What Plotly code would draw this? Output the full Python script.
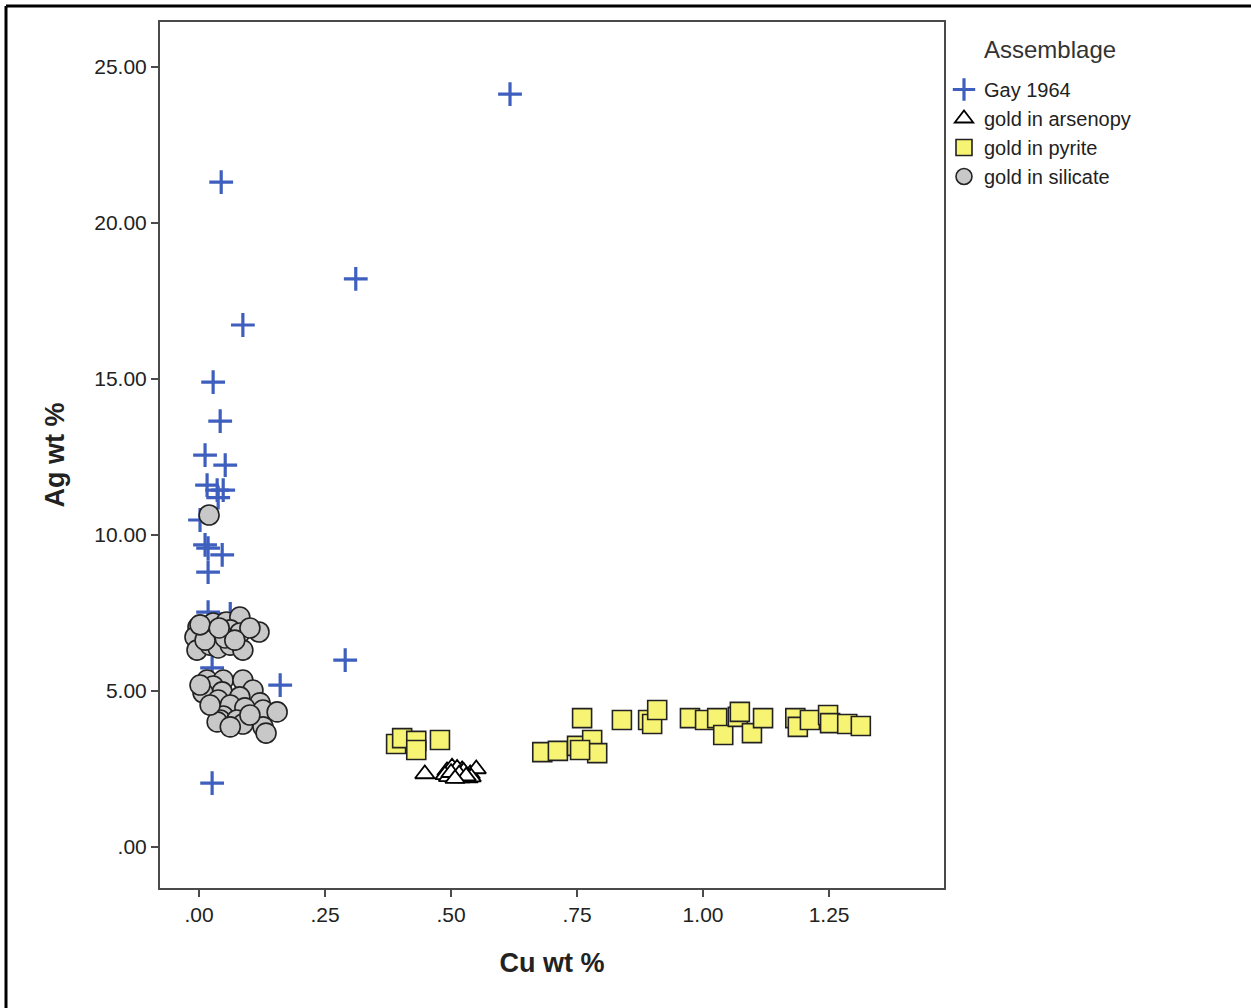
import plotly.graph_objects as go

# Cu and Ag contents (wt %) by assemblage
gay_cu = [0.617, 0.044, 0.311, 0.087, 0.028, 0.042, 0.012, 0.052, 0.016, 0.036,
          0.048, 0.038, 0.002, 0.012, 0.018, 0.046, 0.018, 0.290, 0.161, 0.026,
          0.018, 0.062, 0.026]
gay_ag = [24.13, 21.31, 18.21, 16.73, 14.90, 13.65, 12.56, 12.24, 11.60, 11.44,
          11.44, 11.20, 10.48, 9.68, 9.58, 9.36, 8.81, 5.99, 5.19, 2.05,
          7.53, 7.47, 5.74]

arseno_cu = [0.448, 0.492, 0.502, 0.508, 0.514, 0.522, 0.528, 0.538, 0.550,
             0.498, 0.518, 0.488, 0.534, 0.505, 0.512, 0.495, 0.525, 0.540,
             0.500, 0.516, 0.530, 0.508]
arseno_ag = [2.34, 2.44, 2.56, 2.40, 2.28, 2.47, 2.31, 2.34, 2.50,
             2.28, 2.21, 2.31, 2.21, 2.36, 2.52, 2.25, 2.42, 2.24,
             2.38, 2.33, 2.27, 2.19]

pyrite_cu = [0.391, 0.403, 0.431, 0.431, 0.478,
             0.760, 0.839, 0.891, 0.899, 0.909, 0.681, 0.712, 0.750, 0.780, 0.790, 0.756,
             0.974, 1.004, 1.028, 1.040, 1.069, 1.073, 1.097, 1.119,
             1.183, 1.188, 1.212, 1.248, 1.252, 1.286, 1.313]
pyrite_ag = [3.30, 3.49, 3.40, 3.11, 3.43,
             4.13, 4.07, 4.07, 3.94, 4.39, 3.04, 3.08, 3.24, 3.43, 3.01, 3.11,
             4.13, 4.07, 4.13, 3.59, 4.17, 4.33, 3.65, 4.13,
             4.13, 3.85, 4.07, 4.23, 3.97, 3.94, 3.88]

silicate_cu = [-0.002, 0.028, 0.054, 0.081, 0.119, -0.008, 0.016, 0.038, 0.062, 0.081,
               0.101, -0.004, 0.022, 0.038, 0.062, 0.087, 0.012, 0.052, 0.071, 0.002,
               0.040,
               0.016, 0.048, 0.087, 0.028, 0.046, 0.107, 0.008, 0.081, 0.038, 0.062,
               0.121, 0.091, 0.127, 0.155, 0.048, 0.042, 0.075, 0.036, 0.087, 0.062,
               0.127, 0.133, 0.022, 0.101, 0.002,
               0.020]
silicate_ag = [7.05, 7.18, 7.21, 7.37, 6.89, 6.73, 6.89, 6.89, 6.96, 6.86,
               7.02, 6.31, 6.47, 6.38, 6.47, 6.31, 6.63, 6.70, 6.63, 7.12,
               7.02,
               5.35, 5.35, 5.35, 5.16, 4.97, 5.03, 4.94, 4.81, 4.71, 4.55,
               4.62, 4.46, 4.39, 4.33, 4.20, 4.07, 4.07, 4.01, 3.94, 3.85,
               3.85, 3.65, 4.55, 4.23, 5.19,
               10.64]

x_ticks = [0.0, 0.25, 0.5, 0.75, 1.0, 1.25]
x_tick_text = [".00", ".25", ".50", ".75", "1.00", "1.25"]
y_ticks = [0, 5, 10, 15, 20, 25]
y_tick_text = [".00", "5.00", "10.00", "15.00", "20.00", "25.00"]

FONT = "Liberation Sans, Arial, sans-serif"
AXIS = "#4a4a4a"

fig = go.Figure()
fig.add_trace(go.Scatter(
    x=gay_cu, y=gay_ag, mode="markers", name="Gay 1964",
    marker=dict(symbol="cross-thin", size=17, color="#3f5fbf",
                line=dict(color="#3f5fbf", width=3.2)),
))
fig.add_trace(go.Scatter(
    x=arseno_cu, y=arseno_ag, mode="markers", name="gold in arsenopy",
    marker=dict(symbol="triangle-up", size=17, color="white",
                line=dict(color="black", width=1.8)),
))
fig.add_trace(go.Scatter(
    x=pyrite_cu, y=pyrite_ag, mode="markers", name="gold in pyrite",
    marker=dict(symbol="square", size=19, color="#f7f473",
                line=dict(color="#222222", width=1.6)),
))
fig.add_trace(go.Scatter(
    x=silicate_cu, y=silicate_ag, mode="markers", name="gold in silicate",
    marker=dict(symbol="circle", size=20, color="#c8c8c8",
                line=dict(color="#222222", width=1.6)),
))

fig.update_layout(
    width=1251, height=1008,
    margin=dict(l=160, r=307, t=22, b=120),
    paper_bgcolor="white", plot_bgcolor="white",
    font=dict(family=FONT, color="#222222", size=20),
    showlegend=True,
    legend=dict(x=1.0, y=0.9446, xanchor="left", yanchor="top",
                font=dict(family=FONT, size=20, color="#222222"),
                itemwidth=30, tracegroupgap=0, bgcolor="rgba(0,0,0,0)"),
    xaxis=dict(range=[-0.0774, 1.478], tickvals=x_ticks, ticktext=x_tick_text,
               showgrid=False, zeroline=False, showline=True, mirror=True,
               linecolor=AXIS, linewidth=2, ticks="outside", ticklen=7,
               tickwidth=2, tickcolor=AXIS,
               tickfont=dict(family=FONT, size=21, color="#222222"),
               title=dict(text="<b>Cu wt %</b>", standoff=28,
                          font=dict(family=FONT, size=27, color="#222222"))),
    yaxis=dict(range=[-1.314, 26.44], tickvals=y_ticks, ticktext=y_tick_text,
               showgrid=False, zeroline=False, showline=True, mirror=True,
               linecolor=AXIS, linewidth=2, ticks="outside", ticklen=7,
               tickwidth=2, tickcolor=AXIS,
               tickfont=dict(family=FONT, size=21, color="#222222"),
               title=dict(text="<b>Ag wt %</b>", standoff=22,
                          font=dict(family=FONT, size=27, color="#222222"))),
    annotations=[dict(text="Assemblage", xref="paper", yref="paper",
                      x=(1050 - 160) / 784, y=(888 - 50) / 866,
                      xanchor="center", yanchor="middle", showarrow=False,
                      font=dict(family=FONT, size=24, color="#333333"))],
    shapes=[
        # outer frame (top and left edges)
        dict(type="line", xref="paper", yref="paper",
             x0=(6 - 160) / 784, x1=(1260 - 160) / 784,
             y0=(888 - 6) / 866, y1=(888 - 6) / 866,
             line=dict(color="black", width=3)),
        dict(type="line", xref="paper", yref="paper",
             x0=(6 - 160) / 784, x1=(6 - 160) / 784,
             y0=(888 - 6) / 866, y1=(888 - 1020) / 866,
             line=dict(color="black", width=3)),
    ],
)

fig.write_html("out.html")
